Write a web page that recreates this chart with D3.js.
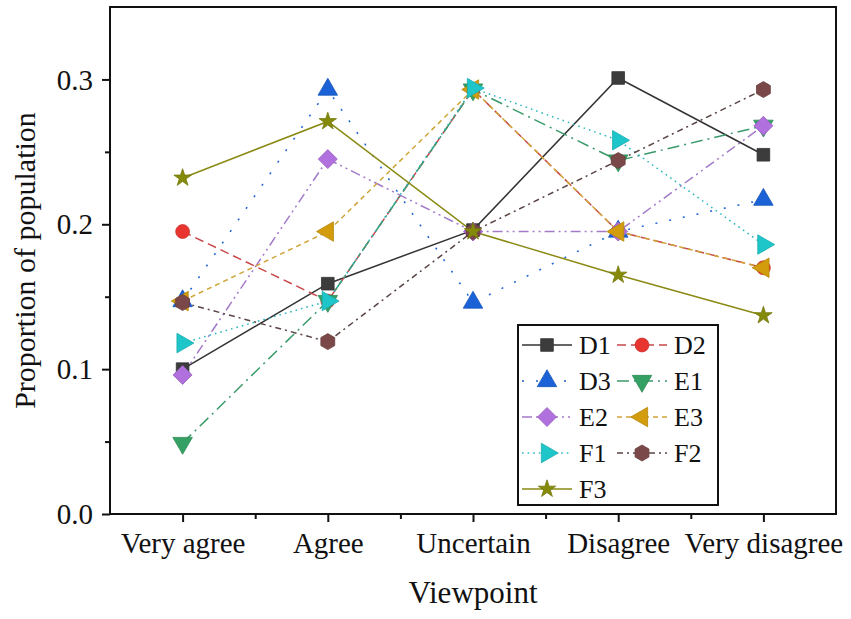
<!DOCTYPE html>
<html>
<head>
<meta charset="utf-8">
<script src="https://cdn.jsdelivr.net/npm/d3@7"></script>
<style>
  html, body { margin:0; padding:0; background:#fff; }
  svg { display:block; }
  text { font-family: "Liberation Serif", "Times New Roman", serif; fill:#111; }
</style>
</head>
<body>
<div id="chart"></div>
<script>
// Proportion of population per viewpoint — 9 series (D1..F3)

const categories = ['Very agree', 'Agree', 'Uncertain', 'Disagree', 'Very disagree'];
const seriesNames = ['D1', 'D2', 'D3', 'E1', 'E2', 'E3', 'F1', 'F2', 'F3'];

const D1 = [0.100, 0.159, 0.196, 0.301, 0.248];
const D2 = [0.195, 0.147, 0.293, 0.195, 0.170];
const D3 = [0.147, 0.293, 0.146, 0.195, 0.217];
const E1 = [0.049, 0.147, 0.293, 0.244, 0.268];
const E2 = [0.096, 0.245, 0.195, 0.195, 0.268];
const E3 = [0.147, 0.195, 0.293, 0.195, 0.170];
const F1 = [0.118, 0.147, 0.294, 0.258, 0.186];
const F2 = [0.146, 0.119, 0.195, 0.244, 0.293];
const F3 = [0.232, 0.271, 0.195, 0.165, 0.137];

const yTicks = [0, 0.1, 0.2, 0.3];
const yMinor = [0.05, 0.15, 0.25];

// styles (kept apart from the values)
const colors  = ['#3c3c3c', '#e8352f', '#1b62d6', '#35a064', '#b070de', '#d29c0c', '#1ec6c9', '#7a4848', '#858a0a'];
const lineCol = ['#333333', '#c8474a', '#1b62d6', '#3a9a6a', '#a27ac8', '#cfa53a', '#2ab7c0', '#5a4444', '#8a8a14'];
const dashes  = [null, '9,5', '2,12', '12,5,2,5', '10,4,2,4,2,4', '5,4', '1.6,4', '6,4,2,4', null];
const symbols = ['square', 'circle', 'up', 'down', 'diamond', 'left', 'right', 'hex', 'star'];

const allSeries = [D1, D2, D3, E1, E2, E3, F1, F2, F3];

const W = 851, H = 619;
const margin = {left:110, right:15, top:7, bottom:105};

const svg = d3.select('#chart').append('svg').attr('width', W).attr('height', H);

const x = d3.scaleLinear().domain([0.5, 5.5]).range([margin.left, W - margin.right]);
const y = d3.scaleLinear().domain([0, 0.35]).range([H - margin.bottom, margin.top]);

// marker path helper
function markerPath(kind){
  if(kind === 'square') return d3.symbol(d3.symbolSquare, 160)();
  if(kind === 'circle') return d3.symbol(d3.symbolCircle, 150)();
  if(kind === 'diamond') return d3.symbol(d3.symbolSquare, 180)();
  if(kind === 'star') return d3.symbol(d3.symbolStar, 95)();
  if(['up','down','left','right'].includes(kind)) return d3.symbol(d3.symbolTriangle, 165)();
  if(kind === 'hex'){
    const r = 8;
    const pts = d3.range(6).map(i => { const a = Math.PI/3*i - Math.PI/2; return [r*Math.cos(a), r*Math.sin(a)]; });
    return 'M' + pts.map(p => p.join(',')).join('L') + 'Z';
  }
}
function markerRot(kind){
  return {down:180, left:-90, right:90, diamond:45}[kind] || 0;
}

// axes frame
const axisG = svg.append('g');
const bottomAxis = d3.axisBottom(x).tickValues([1,2,3,4,5]).tickFormat(d => categories[d-1]).tickSize(8).tickPadding(6);
const bottomMinor = d3.axisBottom(x).tickValues([1.5,2.5,3.5,4.5]).tickFormat('').tickSize(5);
const leftAxis = d3.axisLeft(y).tickValues(yTicks).tickFormat(d3.format('.1f')).tickSize(8).tickPadding(9);
const leftMinor = d3.axisLeft(y).tickValues(yMinor).tickFormat('').tickSize(5);

function styleAxis(g){
  g.select('.domain').remove();
  g.selectAll('line').attr('stroke', '#111').attr('stroke-width', 2);
  g.selectAll('text').style('font-family', '"Liberation Serif", serif').style('font-size', '29px').attr('fill', '#111');
}

axisG.append('g').attr('transform', `translate(0,${y(0)})`).call(bottomAxis).call(styleAxis)
  .selectAll('text').attr('dy', '0.85em');
axisG.append('g').attr('transform', `translate(0,${y(0)})`).call(bottomMinor).call(styleAxis);
axisG.append('g').attr('transform', `translate(${x(0.5)},0)`).call(leftAxis).call(styleAxis)
  .selectAll('text').attr('dy', '0.33em');
axisG.append('g').attr('transform', `translate(${x(0.5)},0)`).call(leftMinor).call(styleAxis);

axisG.append('rect')
  .attr('x', x(0.5)).attr('y', y(0.35))
  .attr('width', x(5.5) - x(0.5)).attr('height', y(0) - y(0.35))
  .attr('fill', 'none').attr('stroke', '#111').attr('stroke-width', 2);

// axis titles
svg.append('text').attr('x', (x(0.5)+x(5.5))/2).attr('y', 603)
  .attr('text-anchor', 'middle').style('font-size', '31px').text('Viewpoint');
svg.append('text').attr('transform', `translate(35,${(y(0)+y(0.35))/2}) rotate(-90)`)
  .attr('text-anchor', 'middle').style('font-size', '30px').text('Proportion of population');

// lines
const line = d3.line().x((d,i) => x(i+1)).y(d => y(d));
const plot = svg.append('g');

allSeries.forEach((vals, si) => {
  plot.append('path').datum(vals)
    .attr('d', line)
    .attr('fill', 'none')
    .attr('stroke', lineCol[si])
    .attr('stroke-width', 1.5)
    .attr('stroke-dasharray', dashes[si]);
});

// markers on top, in series order
allSeries.forEach((vals, si) => {
  plot.selectAll(null).data(vals).enter().append('path')
    .attr('d', markerPath(symbols[si]))
    .attr('transform', (d,i) => `translate(${x(i+1)},${y(d)}) rotate(${markerRot(symbols[si])})`)
    .attr('fill', colors[si])
    .attr('stroke', d3.color(colors[si]).darker(0.4))
    .attr('stroke-width', 0.8);
});

// legend
const lg = svg.append('g');
lg.append('rect').attr('x', 518).attr('y', 325).attr('width', 200).attr('height', 180)
  .attr('fill', '#fff').attr('stroke', '#111').attr('stroke-width', 2);

seriesNames.forEach((name, si) => {
  const col = si % 2, row = Math.floor(si / 2);
  const x0 = col === 0 ? 522 : 617;
  const cy = 345 + row * 36;
  const item = lg.append('g');
  item.append('line').attr('x1', x0).attr('x2', x0 + 50).attr('y1', cy).attr('y2', cy)
    .attr('stroke', lineCol[si]).attr('stroke-width', 1.5).attr('stroke-dasharray', dashes[si]);
  item.append('path').attr('d', markerPath(symbols[si]))
    .attr('transform', `translate(${x0 + 25},${cy}) rotate(${markerRot(symbols[si])})`)
    .attr('fill', colors[si]).attr('stroke', d3.color(colors[si]).darker(0.4)).attr('stroke-width', 0.8);
  item.append('text').attr('x', x0 + 57).attr('y', cy).attr('dy', '0.35em')
    .style('font-size', '26px').text(name);
});
</script>
</body>
</html>
